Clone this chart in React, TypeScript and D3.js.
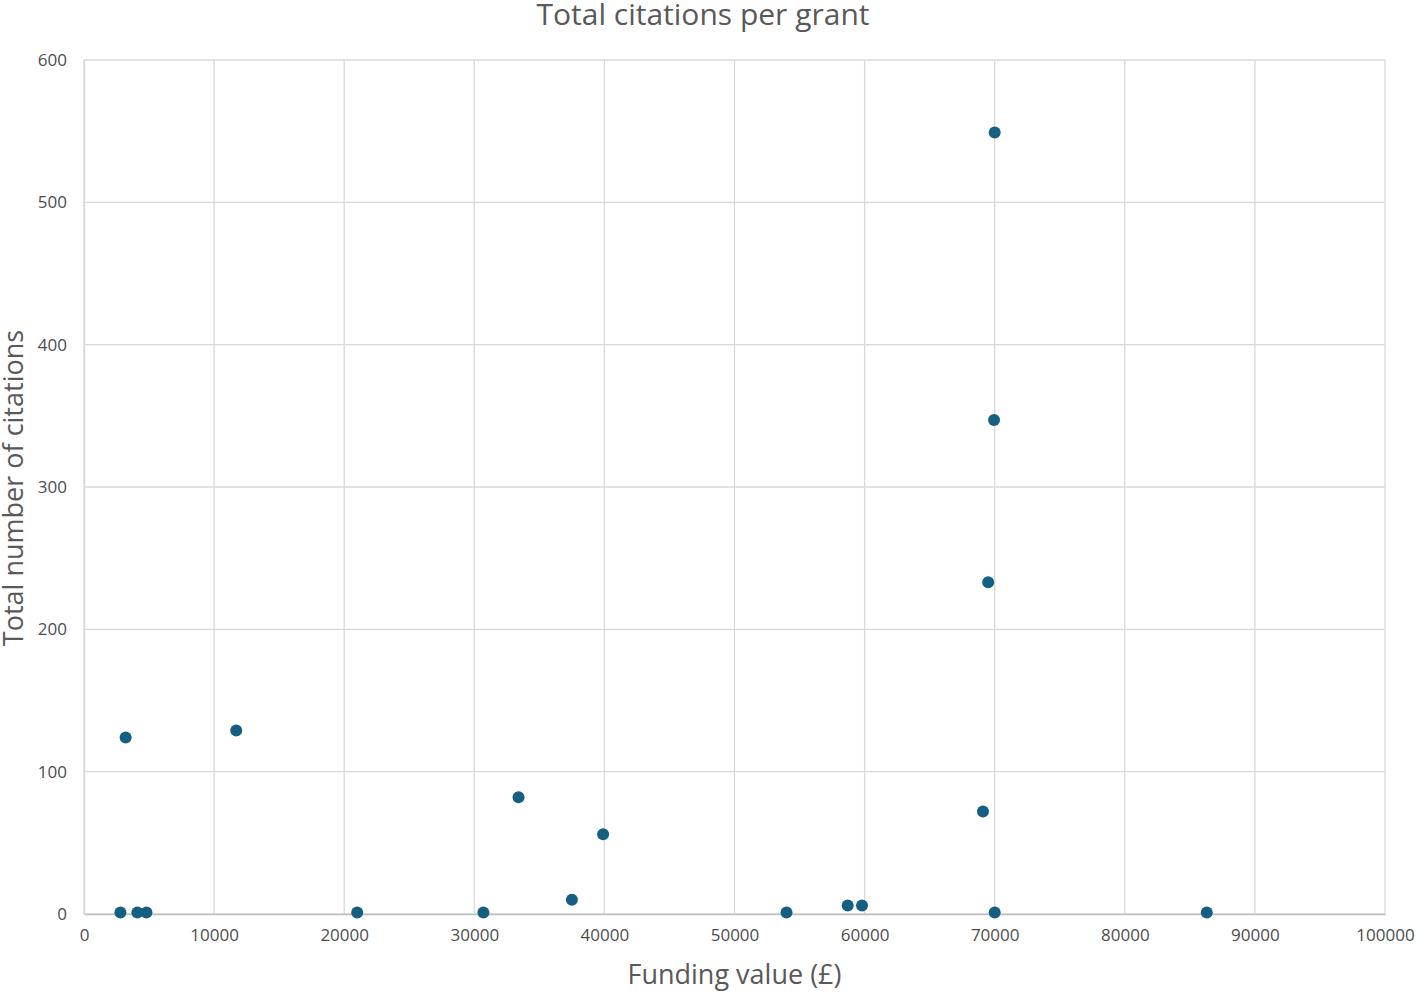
import { useEffect, useRef } from 'react';
import * as d3 from 'd3';

// Funding value (£) and total citations for each grant
const FUNDING = [
  2800, 3200, 4100, 4800, 11700, 21000, 30700, 33400, 37500, 39900,
  54000, 58700, 59800, 69100, 69500, 69950, 70000, 70000, 86300,
];
const CITATIONS = [
  1, 124, 1, 1, 129, 1, 1, 82, 10, 56,
  1, 6, 6, 72, 233, 347, 549, 1, 1,
];
const X_TICKS = [0, 10000, 20000, 30000, 40000, 50000, 60000, 70000, 80000, 90000, 100000];
const Y_TICKS = [0, 100, 200, 300, 400, 500, 600];

const TITLE = 'Total citations per grant';
const X_TITLE = 'Funding value (£)';
const Y_TITLE = 'Total number of citations';

const WIDTH = 1418;
const HEIGHT = 992;
const FONT = '"Open Sans", "Noto Sans", sans-serif';
const TEXT_COLOR = '#595959';
const GRID_COLOR = '#d9d9d9';
const DOT_COLOR = '#156082';

export default function App() {
  const svgRef = useRef<SVGSVGElement>(null);

  useEffect(() => {
    const svg = d3.select(svgRef.current);
    svg.selectAll('*').remove();

    const margin = { top: 60, right: 33, bottom: 78, left: 84 };
    const innerW = WIDTH - margin.left - margin.right;
    const innerH = HEIGHT - margin.top - margin.bottom;

    const x = d3.scaleLinear().domain([0, 100000]).range([0, innerW]);
    const y = d3.scaleLinear().domain([0, 600]).range([innerH, 0]);

    const g = svg.append('g').attr('transform', `translate(${margin.left},${margin.top})`);

    // grid
    g.append('g')
      .selectAll('line')
      .data(Y_TICKS)
      .join('line')
      .attr('x1', 0)
      .attr('x2', innerW)
      .attr('y1', d => y(d))
      .attr('y2', d => y(d))
      .attr('stroke', GRID_COLOR)
      .attr('stroke-width', 1.3);

    g.append('g')
      .selectAll('line')
      .data(X_TICKS)
      .join('line')
      .attr('y1', 0)
      .attr('y2', innerH)
      .attr('x1', d => x(d))
      .attr('x2', d => x(d))
      .attr('stroke', GRID_COLOR)
      .attr('stroke-width', 1.3);

    // axes
    const xAxis = g.append('g')
      .attr('transform', `translate(0,${innerH})`)
      .call(d3.axisBottom(x).tickValues(X_TICKS).tickSize(0).tickPadding(15).tickFormat(d3.format('d')));
    const yAxis = g.append('g')
      .call(d3.axisLeft(y).tickValues(Y_TICKS).tickSize(0).tickPadding(17).tickFormat(d3.format('d')));

    [xAxis, yAxis].forEach(a => {
      a.select('.domain').attr('stroke', '#bfbfbf').attr('stroke-width', 1.3);
      a.selectAll('text')
        .attr('fill', '#4d4d4d')
        .style('font-family', FONT)
        .style('font-size', '17px');
    });
    yAxis.select('.domain').attr('stroke', GRID_COLOR);

    // points
    g.append('g')
      .selectAll('circle')
      .data(FUNDING.map((f, i) => ({ f, c: CITATIONS[i] })))
      .join('circle')
      .attr('cx', d => x(d.f))
      .attr('cy', d => y(d.c))
      .attr('r', 6)
      .attr('fill', DOT_COLOR);

    // titles
    svg.append('text')
      .attr('x', WIDTH / 2 - 6)
      .attr('y', 25)
      .attr('text-anchor', 'middle')
      .attr('fill', TEXT_COLOR)
      .style('font-family', FONT)
      .style('font-size', '30px')
      .text(TITLE);

    svg.append('text')
      .attr('x', margin.left + innerW / 2)
      .attr('y', 984)
      .attr('text-anchor', 'middle')
      .attr('fill', TEXT_COLOR)
      .style('font-family', FONT)
      .style('font-size', '27px')
      .text(X_TITLE);

    svg.append('text')
      .attr('transform', `translate(23,${margin.top + innerH / 2 + 1}) rotate(-90)`)
      .attr('text-anchor', 'middle')
      .attr('fill', TEXT_COLOR)
      .style('font-family', FONT)
      .style('font-size', '27px')
      .text(Y_TITLE);
  }, []);

  return (
    <svg
      ref={svgRef}
      width={WIDTH}
      height={HEIGHT}
      style={{ position: 'absolute', left: 0, top: 0, background: '#fff' }}
    />
  );
}
